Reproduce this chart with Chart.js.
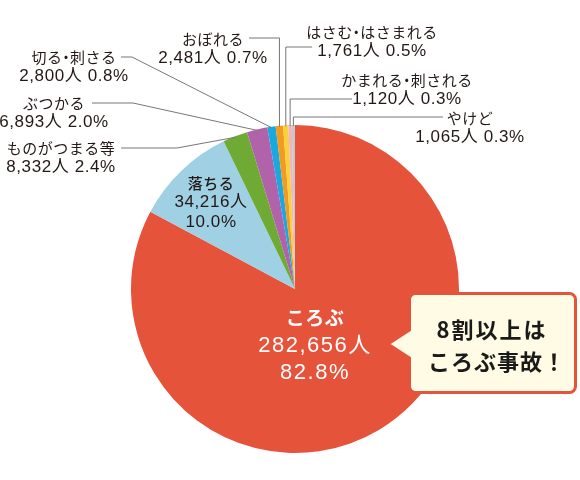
<!DOCTYPE html>
<html>
<head>
<meta charset="utf-8">
<script src="https://cdn.jsdelivr.net/npm/chart.js@4/dist/chart.umd.min.js"></script>
<style>
  body { margin: 0; background: #fff; }
  canvas { display: block; }
</style>
</head>
<body>
<canvas id="accident-pie" width="580" height="480"></canvas>
<script>
const categories = ['ころぶ', '落ちる', 'ものがつまる等', 'ぶつかる', '切る・刺さる', 'おぼれる', 'はさむ・はさまれる', 'かまれる・刺される', 'やけど'];
const people = [282656, 34216, 8332, 6893, 2800, 2481, 1761, 1120, 1065];
const percents = ['82.8%', '10.0%', '2.4%', '2.0%', '0.8%', '0.7%', '0.5%', '0.3%', '0.3%'];
const sliceColors = ['#e6533b', '#9fd0e3', '#6fab34', '#b163a9', '#19a8e0', '#f39a20', '#f7d23a', '#f0b3c0', '#c8c8c8'];
const calloutLines = ['8割以上は', 'ころぶ事故！'];

// where the outside labels sit (i = slice index)
const outerLabels = [
  { i: 2, x: 61,  y: 148, lineY: 148, from: 121, elbow: 177 },
  { i: 3, x: 54,  y: 103, lineY: 103, from: 92,  elbow: 133 },
  { i: 4, x: 74,  y: 57,  lineY: 57,  from: 121, elbow: 132 },
  { i: 5, x: 213, y: 39,  lineY: 38,  from: 249 },
  { i: 6, x: 372, y: 32,  lineY: 47,  from: 312 },
  { i: 7, x: 407, y: 80,  lineY: 99,  from: 352 },
  { i: 8, x: 470, y: 118, lineY: 117, from: 443 }
];
const innerLabels = [
  { i: 0, x: 315, y: 318, gap: 27.5, color: '#ffffff', nameWeight: 'bold', nameSize: 19, numSize: 22, spacing: 1.5 },
  { i: 1, x: 211, y: 183, gap: 19.5, color: '#231815', nameWeight: '500', nameSize: 15, numSize: 17, spacing: 0.6 }
];

const JP = '"Noto Sans CJK JP"';
const NUM = '"Liberation Sans", "Noto Sans CJK JP"';

function countText(i) {
  return people[i].toLocaleString('en-US') + '人';
}

// category names: the "・" is drawn half width like in the print
function drawName(ctx, text, cx, y, size) {
  const parts = text.split('・');
  const dotW = size * 0.5;
  const widths = parts.map(p => ctx.measureText(p).width);
  const total = widths.reduce((s, w) => s + w, 0) + dotW * (parts.length - 1);
  let x = cx - total / 2;
  ctx.textAlign = 'left';
  parts.forEach((p, k) => {
    ctx.fillText(p, x, y);
    x += widths[k];
    if (k < parts.length - 1) {
      ctx.textAlign = 'center';
      ctx.fillText('・', x + dotW / 2, y);
      ctx.textAlign = 'left';
      x += dotW;
    }
  });
  ctx.textAlign = 'center';
}

const labelPlugin = {
  id: 'labelPlugin',
  afterDraw(chart) {
    const ctx = chart.ctx;
    const arcs = chart.getDatasetMeta(0).data;
    ctx.save();
    ctx.textBaseline = 'middle';
    ctx.textAlign = 'center';

    // leader lines + outside labels
    outerLabels.forEach(l => {
      const a = arcs[l.i];
      const mid = (a.startAngle + a.endAngle) / 2;
      const r = a.outerRadius - 1;
      const ex = a.x + Math.cos(mid) * r;
      const ey = a.y + Math.sin(mid) * r;
      ctx.strokeStyle = '#777777';
      ctx.lineWidth = 1;
      ctx.beginPath();
      ctx.moveTo(l.from, l.lineY);
      if (l.elbow) {
        ctx.lineTo(l.elbow, l.lineY);
        ctx.lineTo(ex, ey);
      } else {
        ctx.lineTo(ex, l.lineY);
        ctx.lineTo(ex, ey);
      }
      ctx.stroke();

      ctx.fillStyle = '#231815';
      ctx.letterSpacing = '0.5px';
      ctx.font = '15px ' + JP;
      drawName(ctx, categories[l.i], l.x, l.y, 15);
      ctx.letterSpacing = '0.6px';
      ctx.font = '17px ' + NUM;
      ctx.fillText(countText(l.i) + ' ' + percents[l.i], l.x, l.y + 19.5);
    });

    // labels inside the big slices
    innerLabels.forEach(l => {
      ctx.fillStyle = l.color;
      ctx.letterSpacing = '0.5px';
      ctx.font = l.nameWeight + ' ' + l.nameSize + 'px ' + JP;
      ctx.fillText(categories[l.i], l.x, l.y);
      ctx.letterSpacing = l.spacing + 'px';
      ctx.font = l.numSize + 'px ' + NUM;
      ctx.fillText(countText(l.i), l.x, l.y + l.gap);
      ctx.fillText(percents[l.i], l.x, l.y + l.gap * 2);
    });

    // callout box
    const bx = 409.5, by = 293.5, bw = 166, bh = 99, rad = 6;
    ctx.beginPath();
    ctx.moveTo(bx + rad, by);
    ctx.lineTo(bx + bw - rad, by);
    ctx.arcTo(bx + bw, by, bx + bw, by + rad, rad);
    ctx.lineTo(bx + bw, by + bh - rad);
    ctx.arcTo(bx + bw, by + bh, bx + bw - rad, by + bh, rad);
    ctx.lineTo(bx + rad, by + bh);
    ctx.arcTo(bx, by + bh, bx, by + bh - rad, rad);
    ctx.lineTo(bx, 358);
    ctx.lineTo(388, 344);
    ctx.lineTo(bx, 330);
    ctx.lineTo(bx, by + rad);
    ctx.arcTo(bx, by, bx + rad, by, rad);
    ctx.closePath();
    ctx.fillStyle = '#fffbe4';
    ctx.fill();
    ctx.strokeStyle = '#e6533b';
    ctx.lineWidth = 3;
    ctx.stroke();

    ctx.fillStyle = '#1a1a1a';
    ctx.font = 'bold 22px ' + JP;
    ctx.letterSpacing = '2px';
    ctx.fillText(calloutLines[0], 492, 330);
    ctx.letterSpacing = '1px';
    ctx.fillText(calloutLines[1], 497, 362);
    ctx.restore();
  }
};

new Chart(document.getElementById('accident-pie').getContext('2d'), {
  type: 'pie',
  data: {
    labels: categories,
    datasets: [{
      data: people,
      backgroundColor: sliceColors,
      borderWidth: 0
    }]
  },
  options: {
    responsive: false,
    animation: false,
    layout: {
      padding: { left: 131, right: 121, top: 125, bottom: 27 }
    },
    plugins: {
      legend: { display: false },
      tooltip: { enabled: false }
    }
  },
  plugins: [labelPlugin]
});
</script>
</body>
</html>
